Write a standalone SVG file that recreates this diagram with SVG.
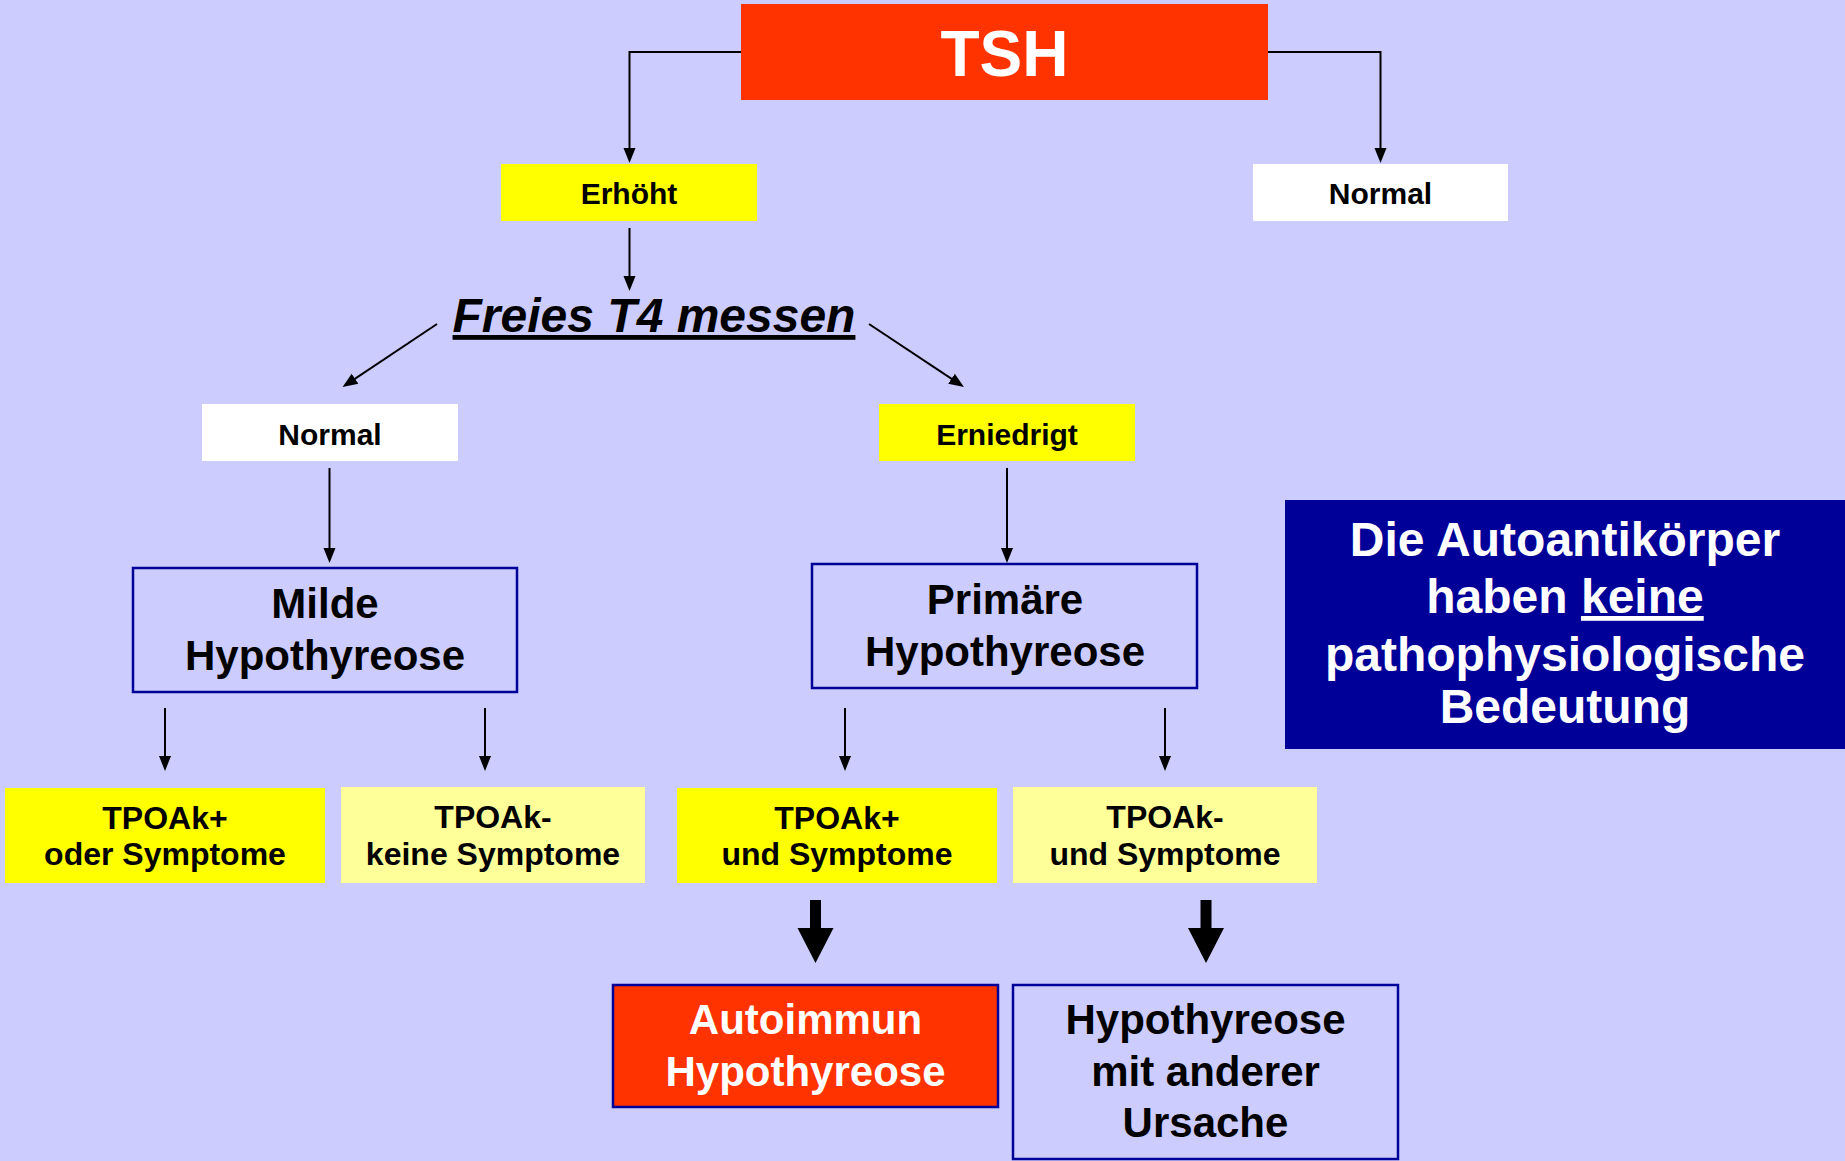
<svg xmlns="http://www.w3.org/2000/svg" width="1845" height="1161" viewBox="0 0 1845 1161">
<style>
  text { font-family: "Liberation Sans", Arial, sans-serif; font-weight: bold; text-anchor: middle; fill: #000; }
  .w { fill: #fff; }
  .s30 { font-size: 30px; }
  .s32 { font-size: 32px; }
  .s42 { font-size: 42px; }
  .s48 { font-size: 48px; }
  .line { fill: none; stroke: #000; stroke-width: 2; }
  .frame { fill: none; stroke: #000099; stroke-width: 2.5; }
  .yel { fill: #FFFF00; }
  .lyel { fill: #FFFF99; }
  .red { fill: #FF3300; }
</style>
<defs>
  <marker id="arr" markerUnits="userSpaceOnUse" markerWidth="15" markerHeight="15" viewBox="0 0 15 15" refX="7" refY="7.5" orient="auto">
    <path d="M0,1.5 L15,7.5 L0,13.5 z" fill="#000"/>
  </marker>
</defs>
<rect x="0" y="0" width="1845" height="1161" fill="#CCCCFF"/>

<g id="connectors">
  <path class="line" d="M741,52 H629.5 V155" marker-end="url(#arr)"/>
  <path class="line" d="M1268,52 H1380.5 V155" marker-end="url(#arr)"/>
  <path class="line" d="M629.5,228 V283" marker-end="url(#arr)"/>
  <path class="line" d="M437,324 L349.2,382.6" marker-end="url(#arr)"/>
  <path class="line" d="M869,324 L957.3,382.6" marker-end="url(#arr)"/>
  <path class="line" d="M329.5,468 V555" marker-end="url(#arr)"/>
  <path class="line" d="M1007,468 V555" marker-end="url(#arr)"/>
  <path class="line" d="M165,708 V763" marker-end="url(#arr)"/>
  <path class="line" d="M485,708 V763" marker-end="url(#arr)"/>
  <path class="line" d="M845,708 V763" marker-end="url(#arr)"/>
  <path class="line" d="M1165,708 V763" marker-end="url(#arr)"/>
  <path d="M810,900 H821 V928 H833.5 L815.5,963 L797.5,928 H810 z" fill="#000"/>
  <path d="M1200.5,900 H1211.5 V928 H1224 L1206,963 L1188,928 H1200.5 z" fill="#000"/>
</g>

<g id="tsh">
  <rect class="red" x="741" y="4" width="527" height="96"/>
  <text class="w" x="1004.5" y="76" style="font-size:64px">TSH</text>
</g>
<g id="erhoeht">
  <rect class="yel" x="501" y="164" width="256" height="57"/>
  <text class="s30" x="629" y="204">Erhöht</text>
</g>
<g id="normal-tsh">
  <rect fill="#FFFFFF" x="1253" y="164" width="255" height="57"/>
  <text class="s30" x="1380.5" y="204">Normal</text>
</g>
<g id="freies-t4">
  <text class="s48" x="654" y="332" style="font-style:italic" text-decoration="underline">Freies T4 messen</text>
</g>
<g id="normal-t4">
  <rect fill="#FFFFFF" x="202" y="404" width="256" height="57"/>
  <text class="s30" x="330" y="445">Normal</text>
</g>
<g id="erniedrigt">
  <rect class="yel" x="879" y="404" width="256" height="57"/>
  <text class="s30" x="1007" y="445">Erniedrigt</text>
</g>
<g id="milde">
  <rect class="frame" x="133" y="568" width="384" height="124"/>
  <text class="s42" x="325" y="618">Milde</text>
  <text class="s42" x="325" y="670">Hypothyreose</text>
</g>
<g id="primaere">
  <rect class="frame" x="812" y="564" width="385" height="124"/>
  <text class="s42" x="1005" y="614">Primäre</text>
  <text class="s42" x="1005" y="666">Hypothyreose</text>
</g>
<g id="tpo-pos-oder">
  <rect class="yel" x="5" y="788" width="320" height="95"/>
  <text class="s32" x="165" y="829">TPOAk+</text>
  <text class="s32" x="165" y="865">oder Symptome</text>
</g>
<g id="tpo-neg-keine">
  <rect class="lyel" x="341" y="787" width="304" height="96"/>
  <text class="s32" x="493" y="828">TPOAk-</text>
  <text class="s32" x="493" y="865">keine Symptome</text>
</g>
<g id="tpo-pos-und">
  <rect class="yel" x="677" y="788" width="320" height="95"/>
  <text class="s32" x="837" y="829">TPOAk+</text>
  <text class="s32" x="837" y="865">und Symptome</text>
</g>
<g id="tpo-neg-und">
  <rect class="lyel" x="1013" y="787" width="304" height="96"/>
  <text class="s32" x="1165" y="828">TPOAk-</text>
  <text class="s32" x="1165" y="865">und Symptome</text>
</g>
<g id="autoimmun">
  <rect class="red" x="613" y="985" width="385" height="122" stroke="#000099" stroke-width="2.5"/>
  <text class="s42 w" x="805.5" y="1034">Autoimmun</text>
  <text class="s42 w" x="805.5" y="1086">Hypothyreose</text>
</g>
<g id="andere-ursache">
  <rect class="frame" x="1013" y="985" width="385" height="174"/>
  <text class="s42" x="1205.5" y="1034">Hypothyreose</text>
  <text class="s42" x="1205.5" y="1086">mit anderer</text>
  <text class="s42" x="1205.5" y="1137">Ursache</text>
</g>
<g id="note">
  <rect fill="#000099" x="1285" y="500" width="560" height="249"/>
  <text class="s48 w" x="1565" y="556">Die Autoantikörper</text>
  <text class="s48 w" x="1565" y="613">haben <tspan text-decoration="underline">keine</tspan></text>
  <text class="s48 w" x="1565" y="671">pathophysiologische</text>
  <text class="s48 w" x="1565" y="723">Bedeutung</text>
</g>
</svg>
